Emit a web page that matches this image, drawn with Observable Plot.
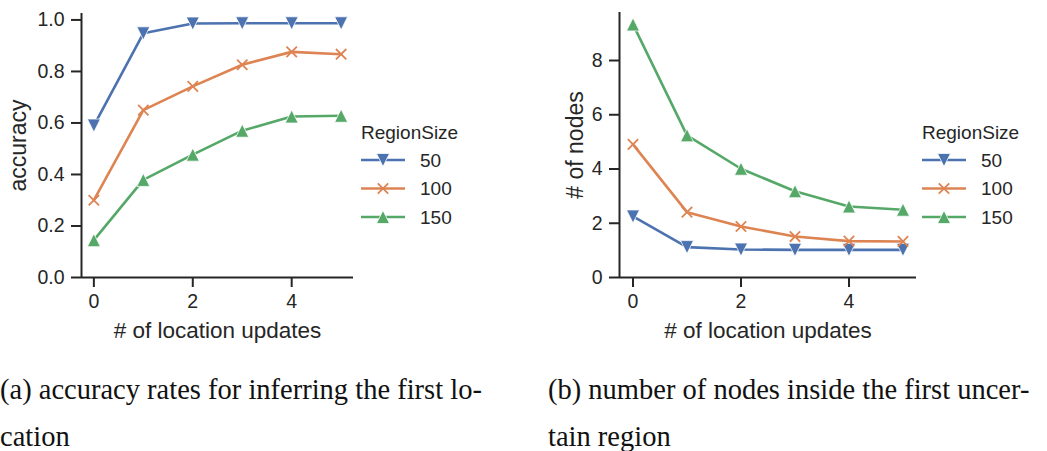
<!DOCTYPE html>
<html><head><meta charset="utf-8">
<script src="https://cdn.jsdelivr.net/npm/d3@7"></script>
<script src="https://cdn.jsdelivr.net/npm/@observablehq/plot@0.6"></script>
<style>
body{margin:0;background:#fff;}
#wrap{position:relative;width:1047px;height:451px;overflow:hidden;background:#fff;font-family:"Liberation Sans",Arial,sans-serif;color:#262626;}
.abs{position:absolute;}
.cap{position:absolute;font-family:"Liberation Serif","Times New Roman",serif;font-size:28.5px;color:#111;line-height:47px;white-space:pre;}
</style></head><body><div id="wrap"></div>
<script>
// ---- data ----
const updates = [0, 1, 2, 3, 4, 5];
const regionSizes = ["50", "100", "150"];
const accuracy50  = [0.590, 0.948, 0.986, 0.987, 0.987, 0.987];
const accuracy100 = [0.300, 0.650, 0.742, 0.826, 0.876, 0.867];
const accuracy150 = [0.145, 0.379, 0.477, 0.570, 0.625, 0.628];
const nodes50  = [2.25, 1.12, 1.03, 1.02, 1.02, 1.02];
const nodes100 = [4.91, 2.41, 1.88, 1.51, 1.34, 1.33];
const nodes150 = [9.33, 5.24, 4.01, 3.18, 2.62, 2.50];
const seriesColors = ["#4C72B0", "#DD8452", "#55A868"];
const accTicks = [0, 0.2, 0.4, 0.6, 0.8, 1.0];
const nodeTicks = [0, 2, 4, 6, 8];
const xTicks = [0, 2, 4];
const xLabel = "# of location updates";
const legendTitle = "RegionSize";
const captionA = ["(a) accuracy rates for inferring the first lo-", "cation"];
const captionB = ["(b) number of nodes inside the first uncer-", "tain region"];

// ---- symbols (matplotlib-like) ----
const triDown = {draw(ctx, size){const r=Math.sqrt(size/Math.PI); ctx.moveTo(0,r); ctx.lineTo(-r,-r); ctx.lineTo(r,-r); ctx.closePath();}};
const triUp = {draw(ctx, size){const r=Math.sqrt(size/Math.PI); ctx.moveTo(0,-r); ctx.lineTo(-r,r); ctx.lineTo(r,r); ctx.closePath();}};
const cross = {draw(ctx, size){const r=Math.sqrt(size/Math.PI); ctx.moveTo(-r,-r); ctx.lineTo(r,r); ctx.moveTo(-r,r); ctx.lineTo(r,-r);}};
const ink = "#262626";

function makeChart(series, o) {
  const rows = [];
  regionSizes.forEach((s, i) => updates.forEach((u, j) => rows.push({u, v: series[i][j], s})));
  const by = s => rows.filter(d => d.s === s);
  return Plot.plot({
    width: o.width, height: 340,
    marginLeft: o.marginLeft, marginRight: o.marginRight, marginTop: o.marginTop, marginBottom: 63,
    x: {domain: [-0.25, 5.25]},
    y: {domain: o.yDomain},
    color: {domain: regionSizes, range: seriesColors},
    style: {color: ink, fontFamily: "'Liberation Sans', Arial, sans-serif", background: "transparent", overflow: "visible"},
    marks: [
      Plot.axisX({ticks: xTicks, tickFormat: d3.format("d"), tickSize: 10, tickPadding: 7, fontSize: 19.5, strokeWidth: 2, label: null}),
      Plot.axisX({ticks: [], tickSize: 0, label: xLabel, labelAnchor: "center", labelArrow: "none", labelOffset: 60, fontSize: 22.5}),
      Plot.axisY({ticks: o.yTicks, tickFormat: o.yFmt, tickSize: 10, tickPadding: 7, fontSize: 19.5, strokeWidth: 2, label: null}),
      Plot.axisY({ticks: [], tickSize: 0, label: o.yLabel, labelAnchor: "center", labelArrow: "none", labelOffset: o.labelOffset, fontSize: 23}),
      Plot.ruleX([-0.25], {stroke: ink, strokeWidth: 2}),
      Plot.ruleY([0], {stroke: ink, strokeWidth: 2}),
      Plot.line(rows, {x: "u", y: "v", z: "s", stroke: "s", strokeWidth: 2.6}),
      Plot.dot(by("50"), {x: "u", y: "v", symbol: triDown, r: 6.5, fill: "s", stroke: "white", strokeWidth: 0.75}),
      Plot.dot(by("100"), {x: "u", y: "v", symbol: cross, r: 5.2, stroke: "s", fill: "none", strokeWidth: 1.8}),
      Plot.dot(by("150"), {x: "u", y: "v", symbol: triUp, r: 6.5, fill: "s", stroke: "white", strokeWidth: 0.75})
    ]
  });
}

function makeLegend(left) {
  const svg = d3.create("svg").attr("width", 170).attr("height", 120)
    .attr("class", "abs").style("left", left + "px").style("top", "110px");
  svg.append("text").attr("x", 1).attr("y", 29).attr("font-size", 19).attr("fill", ink)
    .attr("font-family", "'Liberation Sans', Arial, sans-serif").text(legendTitle);
  const syms = [triDown, cross, triUp];
  regionSizes.forEach((s, i) => {
    const cy = 50 + i * 28.5;
    const g = svg.append("g");
    g.append("line").attr("x1", 1).attr("x2", 45).attr("y1", cy).attr("y2", cy)
      .attr("stroke", seriesColors[i]).attr("stroke-width", 2.6);
    const r = i === 1 ? 5.2 : 6.5;
    const p = g.append("path").attr("transform", `translate(23,${cy})`)
      .attr("d", d3.symbol(syms[i], Math.PI * r * r)());
    if (i === 1) p.attr("fill", "none").attr("stroke", seriesColors[i]).attr("stroke-width", 1.8);
    else p.attr("fill", seriesColors[i]).attr("stroke", "white").attr("stroke-width", 0.75);
    g.append("text").attr("x", 60).attr("y", cy).attr("dy", "0.36em").attr("font-size", 19)
      .attr("fill", ink).attr("font-family", "'Liberation Sans', Arial, sans-serif").text(s);
  });
  return svg.node();
}

const wrap = document.getElementById("wrap");
const c1 = makeChart([accuracy50, accuracy100, accuracy150], {
  width: 360, marginLeft: 81, marginRight: 7, marginTop: 13, yDomain: [0, 1.025],
  yTicks: accTicks, yFmt: d3.format(".1f"), yLabel: "accuracy", labelOffset: 72
});
c1.classList.add("abs"); c1.style.left = "0px"; c1.style.top = "0px";
wrap.appendChild(c1);
const c2 = makeChart([nodes50, nodes100, nodes150], {
  width: 380, marginLeft: 79, marginRight: 4, marginTop: 12, yDomain: [0, 9.77],
  yTicks: nodeTicks, yFmt: d3.format("d"), yLabel: "# of nodes", labelOffset: 53
});
c2.classList.add("abs"); c2.style.left = "540px"; c2.style.top = "0px";
wrap.appendChild(c2);
wrap.appendChild(makeLegend(360));
wrap.appendChild(makeLegend(921));

function caption(lines, left) {
  const d = document.createElement("div");
  d.className = "cap"; d.style.left = left + "px"; d.style.top = "366px";
  d.textContent = lines.join("\n");
  wrap.appendChild(d);
}
caption(captionA, 0);
caption(captionB, 548);
</script></body></html>
